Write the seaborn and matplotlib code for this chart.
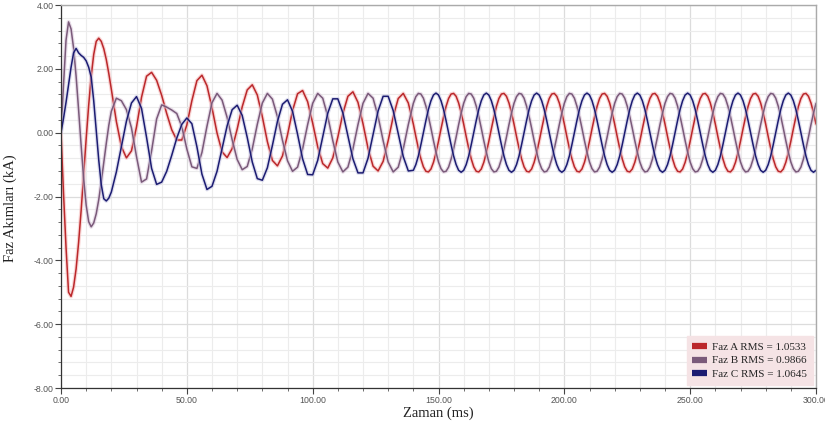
import numpy as np
import pandas as pd
import matplotlib
matplotlib.use("Agg")
import matplotlib.pyplot as plt
import matplotlib.patheffects as pe
from matplotlib.ticker import MultipleLocator, FormatStrFormatter
from matplotlib.lines import Line2D
import seaborn as sns

# ---- data ----
# sample times: 1 ms steps in 0-19, 2 ms steps in 20-138, 1 ms steps in 140-300
time_ms = np.concatenate([np.arange(0, 20, 1), np.arange(20, 140, 2),
                          np.arange(140, 301, 1)])

faz_a = [
    # 0-19 ms
    0.00, -1.90, -3.60, -5.00, -5.13, -4.84, -4.27, -3.44, -2.44, -1.32,
    -0.19, 0.86, 1.77, 2.45, 2.86, 2.96, 2.86, 2.63, 2.29, 1.85,
    # 20-138 ms (2 ms)
    1.36, 0.35, -0.44, -0.79, -0.57, 0.18, 1.11, 1.77, 1.89, 1.64,
    1.17, 0.60, 0.09, -0.23, -0.23, 0.24, 1.00, 1.63, 1.80, 1.47,
    0.78, -0.01, -0.60, -0.78, -0.50, 0.11, 0.81, 1.34, 1.50, 1.18,
    0.50, -0.28, -0.87, -1.04, -0.73, -0.07, 0.69, 1.22, 1.32, 0.97,
    0.30, -0.44, -0.97, -1.11, -0.79, -0.14, 0.60, 1.14, 1.28, 0.95,
    0.28, -0.49, -1.05, -1.20, -0.90, -0.25, 0.50, 1.07, 1.23, 0.93,
    # 140-300 ms (1 ms)
    0.27, -0.12, -0.49, -0.82, -1.07, -1.21, -1.23, -1.14, -0.93, -0.63,
    -0.27, 0.12, 0.49, 0.82, 1.07, 1.21, 1.23, 1.14, 0.93, 0.63,
    0.27, -0.12, -0.49, -0.82, -1.07, -1.21, -1.23, -1.14, -0.93, -0.63,
    -0.27, 0.12, 0.49, 0.82, 1.07, 1.21, 1.23, 1.14, 0.93, 0.63,
    0.27, -0.12, -0.49, -0.82, -1.07, -1.21, -1.23, -1.14, -0.93, -0.63,
    -0.27, 0.12, 0.49, 0.82, 1.07, 1.21, 1.23, 1.14, 0.93, 0.63,
    0.27, -0.12, -0.49, -0.82, -1.07, -1.21, -1.23, -1.14, -0.93, -0.63,
    -0.27, 0.12, 0.49, 0.82, 1.07, 1.21, 1.23, 1.14, 0.93, 0.63,
    0.27, -0.12, -0.49, -0.82, -1.07, -1.21, -1.23, -1.14, -0.93, -0.63,
    -0.27, 0.12, 0.49, 0.82, 1.07, 1.21, 1.23, 1.14, 0.93, 0.63,
    0.27, -0.12, -0.49, -0.82, -1.07, -1.21, -1.23, -1.14, -0.93, -0.63,
    -0.27, 0.12, 0.49, 0.82, 1.07, 1.21, 1.23, 1.14, 0.93, 0.63,
    0.27, -0.12, -0.49, -0.82, -1.07, -1.21, -1.23, -1.14, -0.93, -0.63,
    -0.27, 0.12, 0.49, 0.82, 1.07, 1.21, 1.23, 1.14, 0.93, 0.63,
    0.27, -0.12, -0.49, -0.82, -1.07, -1.21, -1.23, -1.14, -0.93, -0.63,
    -0.27, 0.12, 0.49, 0.82, 1.07, 1.21, 1.23, 1.14, 0.93, 0.63,
    0.27,
]

faz_b = [
    # 0-19 ms
    0.00, 1.50, 2.90, 3.47, 3.25, 2.65, 1.77, 0.71, -0.40, -1.44,
    -2.27, -2.79, -2.95, -2.83, -2.54, -2.10, -1.54, -0.94, -0.33, 0.23,
    # 20-138 ms (2 ms)
    0.67, 1.08, 1.00, 0.72, 0.15, -0.75, -1.55, -1.45, -0.57, 0.43,
    0.87, 0.80, 0.71, 0.60, 0.19, -0.51, -1.07, -1.12, -0.62, 0.20,
    0.94, 1.23, 1.02, 0.48, -0.22, -0.84, -1.16, -1.06, -0.51, 0.26,
    0.93, 1.23, 1.05, 0.50, -0.24, -0.88, -1.21, -1.08, -0.51, 0.25,
    0.92, 1.23, 1.08, 0.51, -0.25, -0.92, -1.23, -1.08, -0.51, 0.25,
    0.92, 1.23, 1.08, 0.51, -0.25, -0.92, -1.23, -1.08, -0.51, 0.25,
    # 140-300 ms (1 ms)
    0.92, 1.13, 1.23, 1.21, 1.08, 0.83, 0.51, 0.14, -0.25, -0.61,
    -0.92, -1.13, -1.23, -1.21, -1.08, -0.83, -0.51, -0.14, 0.25, 0.61,
    0.92, 1.13, 1.23, 1.21, 1.08, 0.83, 0.51, 0.14, -0.25, -0.61,
    -0.92, -1.13, -1.23, -1.21, -1.08, -0.83, -0.51, -0.14, 0.25, 0.61,
    0.92, 1.13, 1.23, 1.21, 1.08, 0.83, 0.51, 0.14, -0.25, -0.61,
    -0.92, -1.13, -1.23, -1.21, -1.08, -0.83, -0.51, -0.14, 0.25, 0.61,
    0.92, 1.13, 1.23, 1.21, 1.08, 0.83, 0.51, 0.14, -0.25, -0.61,
    -0.92, -1.13, -1.23, -1.21, -1.08, -0.83, -0.51, -0.14, 0.25, 0.61,
    0.92, 1.13, 1.23, 1.21, 1.08, 0.83, 0.51, 0.14, -0.25, -0.61,
    -0.92, -1.13, -1.23, -1.21, -1.08, -0.83, -0.51, -0.14, 0.25, 0.61,
    0.92, 1.13, 1.23, 1.21, 1.08, 0.83, 0.51, 0.14, -0.25, -0.61,
    -0.92, -1.13, -1.23, -1.21, -1.08, -0.83, -0.51, -0.14, 0.25, 0.61,
    0.92, 1.13, 1.23, 1.21, 1.08, 0.83, 0.51, 0.14, -0.25, -0.61,
    -0.92, -1.13, -1.23, -1.21, -1.08, -0.83, -0.51, -0.14, 0.25, 0.61,
    0.92, 1.13, 1.23, 1.21, 1.08, 0.83, 0.51, 0.14, -0.25, -0.61,
    -0.92, -1.13, -1.23, -1.21, -1.08, -0.83, -0.51, -0.14, 0.25, 0.61,
    0.92,
]

faz_c = [
    # 0-19 ms
    0.00, 0.45, 0.95, 1.50, 2.05, 2.50, 2.64, 2.50, 2.42, 2.36,
    2.25, 2.05, 1.74, 1.00, 0.08, -0.86, -1.63, -2.07, -2.14, -2.05,
    # 20-138 ms (2 ms)
    -1.86, -1.23, -0.43, 0.36, 0.93, 1.13, 0.76, -0.15, -1.12, -1.62,
    -1.55, -1.21, -0.71, -0.17, 0.26, 0.46, 0.28, -0.44, -1.30, -1.78,
    -1.68, -1.21, -0.50, 0.21, 0.72, 0.86, 0.54, -0.15, -0.92, -1.44,
    -1.49, -1.10, -0.40, 0.35, 0.89, 1.03, 0.67, -0.05, -0.82, -1.31,
    -1.32, -0.87, -0.13, 0.61, 1.06, 1.06, 0.62, -0.10, -0.82, -1.26,
    -1.26, -0.80, -0.06, 0.68, 1.14, 1.14, 0.69, -0.03, -0.75, -1.20,
    # 140-300 ms (1 ms)
    -1.18, -1.00, -0.73, -0.38, 0.00, 0.38, 0.73, 1.00, 1.18, 1.24,
    1.18, 1.00, 0.73, 0.38, 0.00, -0.38, -0.73, -1.00, -1.18, -1.24,
    -1.18, -1.00, -0.73, -0.38, 0.00, 0.38, 0.73, 1.00, 1.18, 1.24,
    1.18, 1.00, 0.73, 0.38, 0.00, -0.38, -0.73, -1.00, -1.18, -1.24,
    -1.18, -1.00, -0.73, -0.38, 0.00, 0.38, 0.73, 1.00, 1.18, 1.24,
    1.18, 1.00, 0.73, 0.38, 0.00, -0.38, -0.73, -1.00, -1.18, -1.24,
    -1.18, -1.00, -0.73, -0.38, 0.00, 0.38, 0.73, 1.00, 1.18, 1.24,
    1.18, 1.00, 0.73, 0.38, 0.00, -0.38, -0.73, -1.00, -1.18, -1.24,
    -1.18, -1.00, -0.73, -0.38, 0.00, 0.38, 0.73, 1.00, 1.18, 1.24,
    1.18, 1.00, 0.73, 0.38, 0.00, -0.38, -0.73, -1.00, -1.18, -1.24,
    -1.18, -1.00, -0.73, -0.38, 0.00, 0.38, 0.73, 1.00, 1.18, 1.24,
    1.18, 1.00, 0.73, 0.38, 0.00, -0.38, -0.73, -1.00, -1.18, -1.24,
    -1.18, -1.00, -0.73, -0.38, 0.00, 0.38, 0.73, 1.00, 1.18, 1.24,
    1.18, 1.00, 0.73, 0.38, 0.00, -0.38, -0.73, -1.00, -1.18, -1.24,
    -1.18, -1.00, -0.73, -0.38, 0.00, 0.38, 0.73, 1.00, 1.18, 1.24,
    1.18, 1.00, 0.73, 0.38, 0.00, -0.38, -0.73, -1.00, -1.18, -1.24,
    -1.18,
]

series_labels = ["Faz A RMS = 1.0533", "Faz B RMS = 0.9866", "Faz C RMS = 1.0645"]
line_colors = ["#bb282b", "#7a5a7a", "#1c1c72"]
halo_colors = ["#f4b4b4", "#d8c4d8", "#c4c4e0"]
x_ticks = [0, 50, 100, 150, 200, 250, 300]
y_ticks = [-8, -6, -4, -2, 0, 2, 4]

# ---- build long table ----
frames = []
for lab, vals in zip(series_labels, [faz_a, faz_b, faz_c]):
    frames.append(pd.DataFrame({"t": time_ms, "i": vals, "faz": lab}))
df = pd.concat(frames, ignore_index=True)

sns.set_theme(style="white")
plt.rcParams["font.family"] = ["Liberation Sans", "DejaVu Sans"]

fig = plt.figure(figsize=(8.25, 4.37), dpi=100)
ax = fig.add_axes([61 / 825, 1 - 388 / 437, (816 - 61) / 825, (388 - 5) / 437])

sns.lineplot(data=df, x="t", y="i", hue="faz", palette=line_colors,
             hue_order=series_labels, errorbar=None, sort=False,
             linewidth=1.1, ax=ax, legend=False)

for ln, hc in zip(ax.lines, halo_colors):
    ln.set_solid_joinstyle("round")
    ln.set_path_effects([pe.Stroke(linewidth=2.8, foreground=hc, alpha=0.55),
                         pe.Normal()])

ax.set_xlim(0, 300)
ax.set_ylim(-8, 4)
ax.set_xticks(x_ticks)
ax.set_yticks(y_ticks)
ax.xaxis.set_minor_locator(MultipleLocator(10))
ax.yaxis.set_minor_locator(MultipleLocator(0.4))
ax.xaxis.set_major_formatter(FormatStrFormatter("%.2f"))
ax.yaxis.set_major_formatter(FormatStrFormatter("%.2f"))

ax.grid(which="minor", color="#ececec", linewidth=0.8)
ax.grid(which="major", color="#dcdcdc", linewidth=0.9)
ax.set_axisbelow(True)

ax.tick_params(axis="both", which="major", direction="out", length=4, width=0.8,
               color="#444444", labelsize=6.3, labelcolor="#555555", pad=1.5,
               left=True, bottom=True)
ax.tick_params(axis="both", which="minor", direction="out", length=2.5, width=0.6,
               color="#555555", left=True, bottom=True)

for s in ["left", "bottom"]:
    ax.spines[s].set_color("#333333")
    ax.spines[s].set_linewidth(0.9)
for s in ["top", "right"]:
    ax.spines[s].set_color("#aaaaaa")
    ax.spines[s].set_linewidth(1.0)

ax.set_xlabel("Zaman (ms)", family=["Liberation Serif", "DejaVu Serif"],
              fontsize=10.5, color="#222222", labelpad=1)
ax.set_ylabel("Faz Akımları (kA)", family=["Liberation Serif", "DejaVu Serif"],
              fontsize=10.5, color="#222222")
ax.yaxis.set_label_coords(-0.058, 0.47)

handles = [Line2D([0], [0], color=c, linewidth=4.5, solid_capstyle="butt")
           for c in line_colors]
leg = ax.legend(handles, series_labels, loc="lower right",
                prop={"family": "Liberation Serif", "size": 8},
                frameon=True, fancybox=False, facecolor="#f5e3e5",
                edgecolor="#f5e3e5", framealpha=1.0, handlelength=1.3,
                handletextpad=0.5, borderaxespad=0.3, labelspacing=0.35,
                borderpad=0.5)

fig.savefig("out.png", dpi=100)
